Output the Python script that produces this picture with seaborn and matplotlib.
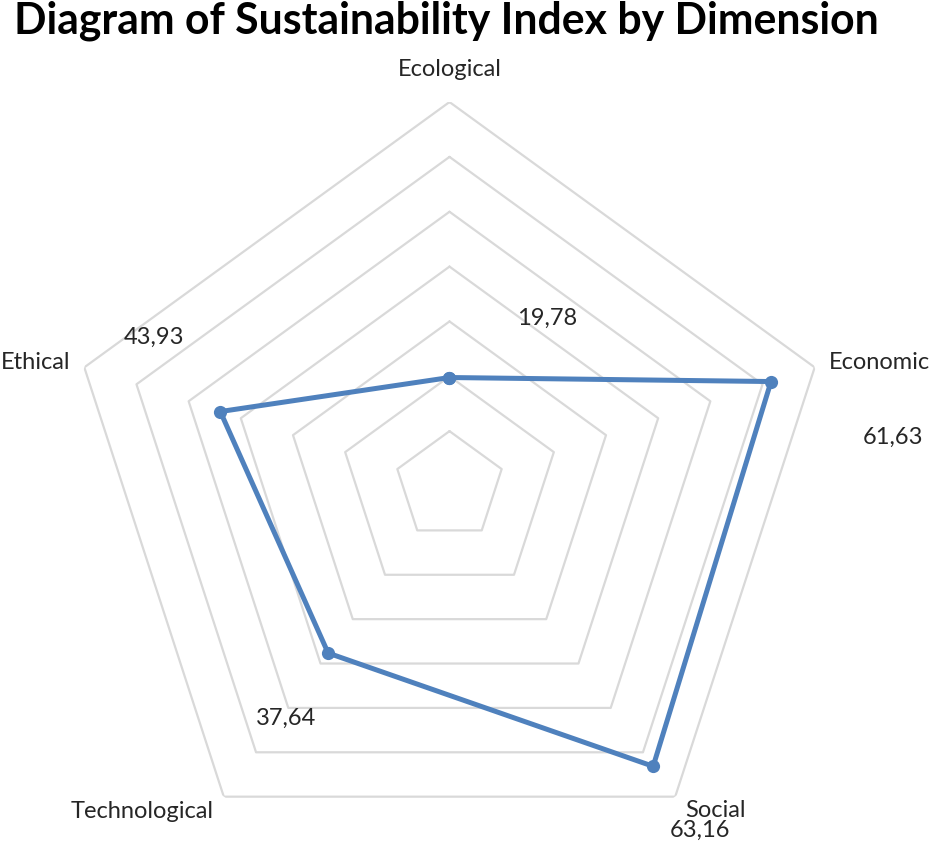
import numpy as np
import pandas as pd
import seaborn as sns
import matplotlib.pyplot as plt

dimensions = ['Ecological', 'Economic', 'Social', 'Technological', 'Ethical']
index_values = [19.78, 61.63, 63.16, 37.64, 43.93]
ring_levels = [10, 20, 30, 40, 50, 60, 70]

sns.set_style("white")
plt.rcParams['font.family'] = ['Lato', 'DejaVu Sans']

n = len(dimensions)
angles = np.linspace(0, 2 * np.pi, n, endpoint=False)
closed_angles = np.append(angles, angles[0] + 2 * np.pi)

df = pd.DataFrame({'theta': closed_angles, 'value': index_values + index_values[:1]})

fig = plt.figure(figsize=(9.31, 8.43), dpi=100)
ax = fig.add_axes([0.07036, -0.03203, 0.8249, 0.9110], projection='polar')
ax.set_theta_offset(np.pi / 2)
ax.set_theta_direction(-1)
ax.set_ylim(0, 70)
ax.grid(False)
ax.spines['polar'].set_visible(False)
ax.set_xticks([])
ax.set_yticks([])

# pentagon gridlines
for r in ring_levels:
    ax.plot(closed_angles, [r] * (n + 1), color='#D9D9D9', lw=1.6, zorder=1)

sns.lineplot(data=df, x='theta', y='value', sort=False, ax=ax, color='#4F81BD',
             linewidth=3.6, marker='o', markersize=9.5, markeredgewidth=0, zorder=3)
ax.set_xlabel('')
ax.set_ylabel('')

# category labels, offset from the outer vertex (pixels)
cat_offsets = [(0, 33), (65, 5), (40, -14), (-82, -15), (-49, 5)]
for ang, name, off in zip(angles, dimensions, cat_offsets):
    ax.annotate(name, xy=(ang, 70), xytext=off, textcoords='offset pixels',
                ha='center', va='center', fontsize=17, color='#262626',
                annotation_clip=False)

# value labels
val_offsets = [(98, 59), (122, -56), (47, -64), (-42, -65), (-66, 74)]
for ang, v, off in zip(angles, index_values, val_offsets):
    ax.annotate(f"{v:.2f}".replace('.', ','), xy=(ang, v), xytext=off,
                textcoords='offset pixels', ha='center', va='center',
                fontsize=17, color='#262626', annotation_clip=False)

fig.text(0.479, 0.975, 'Diagram of Sustainability Index by Dimension',
         ha='center', va='center', fontsize=30.8, fontweight='bold', color='black')

fig.savefig('out.png', dpi=100)
